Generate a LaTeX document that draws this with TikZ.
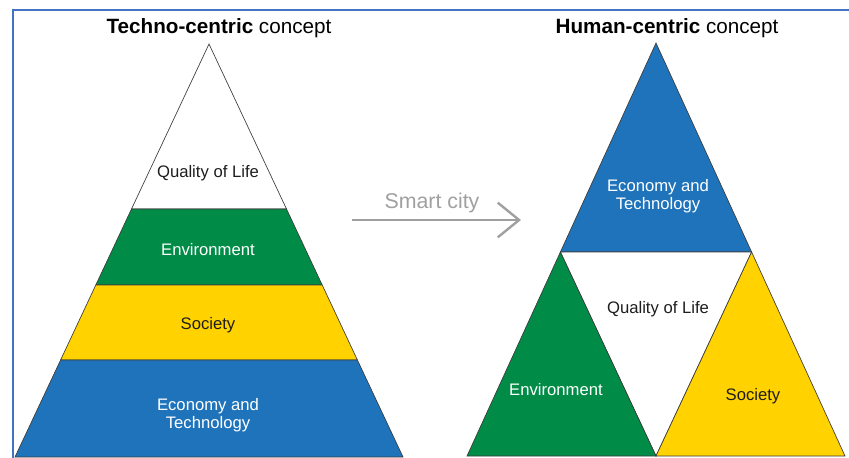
\documentclass[tikz,border=0pt]{standalone}
\usepackage{fontspec}
\setmainfont{Liberation Sans}
\usetikzlibrary{arrows.meta}

\definecolor{bandblue}{RGB}{31,115,186}
\definecolor{bandgreen}{RGB}{0,140,70}
\definecolor{bandyellow}{RGB}{255,210,0}
\definecolor{frameblue}{RGB}{68,114,196}
\definecolor{arrowgray}{RGB}{160,160,160}
\definecolor{textdark}{RGB}{30,30,30}

\tikzset{every picture/.style={line width=0.75pt}}
\tikzset{
  band/.style={draw={rgb, 255:red, 60; green, 60; blue, 60}, line width=0.5pt},
  lbl/.style={inner sep=0.75pt, anchor=base, align=center, font=\fontsize{12.5}{13.5}\selectfont},
  ttl/.style={inner sep=0.75pt, anchor=base, font=\fontsize{15.5}{18}\selectfont},
}

\begin{document}
\begin{tikzpicture}[x=0.75pt,y=0.75pt,yscale=-1,xscale=1]
    \clip (0,0) rectangle (849,457);
    %Shape: Frame
    \draw [frameblue, line width=1.5pt] (13,470) -- (13,10) -- (860,10) ;
    %Shape: Triangle [left, top]
    \draw [band, fill=white] (209,44) -- (286.5,209) -- (131.5,209) -- cycle ;
    %Shape: Trapezoid [left, green]
    \draw [band, fill=bandgreen] (131.5,209) -- (286.5,209) -- (322.2,285) -- (95.8,285) -- cycle ;
    %Shape: Trapezoid [left, yellow]
    \draw [band, fill=bandyellow] (95.8,285) -- (322.2,285) -- (357.4,360) -- (60.6,360) -- cycle ;
    %Shape: Trapezoid [left, blue]
    \draw [band, fill=bandblue] (60.6,360) -- (357.4,360) -- (403,457) -- (15,457) -- cycle ;
    %Shape: Triangle [right, blue]
    \draw [band, fill=bandblue] (656,43) -- (751.6,252) -- (560.4,252) -- cycle ;
    %Shape: Triangle [right, white]
    \draw [band, fill=white] (560.4,252) -- (751.6,252) -- (656,456) -- cycle ;
    %Shape: Triangle [right, green]
    \draw [band, fill=bandgreen] (560.4,252) -- (656,456) -- (467,456) -- cycle ;
    %Shape: Triangle [right, yellow]
    \draw [band, fill=bandyellow] (751.6,252) -- (845,456) -- (656,456) -- cycle ;
    % Text Node
    \node [ttl] (ttlTechno) at (219,33) {\textbf{Techno-centric} concept};
    % Text Node
    \node [ttl] (ttlHuman) at (667,33) {\textbf{Human-centric} concept};
    % Text Node
    \node [lbl, textdark] (lQuality) at (208,177) {Quality of Life};
    % Text Node
    \node [lbl, white] (lEnv) at (208,255) {Environment};
    % Text Node
    \node [lbl, textdark] (lSociety) at (208,329) {Society};
    % Text Node
    \node [lbl, white] (lEconomy) at (208,428) {Economy and\\Technology};
    % Text Node
    \node [lbl, white] (rEconomy) at (658,209) {Economy and\\Technology};
    % Text Node
    \node [lbl, textdark] (rQuality) at (658,313) {Quality of Life};
    % Text Node
    \node [lbl, white] (rEnv) at (556,395) {Environment};
    % Text Node
    \node [lbl, textdark] (rSociety) at (753,400) {Society};
    % Text Node
    \node [ttl, arrowgray, font=\fontsize{16}{18}\selectfont] (smartCity) at (432,208) {Smart city};
    %Arrow
    \coordinate (arrStart) at (352,220) ;
    \coordinate (arrEnd) at (521,220) ;
    \draw [arrowgray, line width=1.8pt, -{Straight Barb[length=16pt, width=26pt]}] (arrStart) -- (arrEnd) ;
\end{tikzpicture}
\end{document}
